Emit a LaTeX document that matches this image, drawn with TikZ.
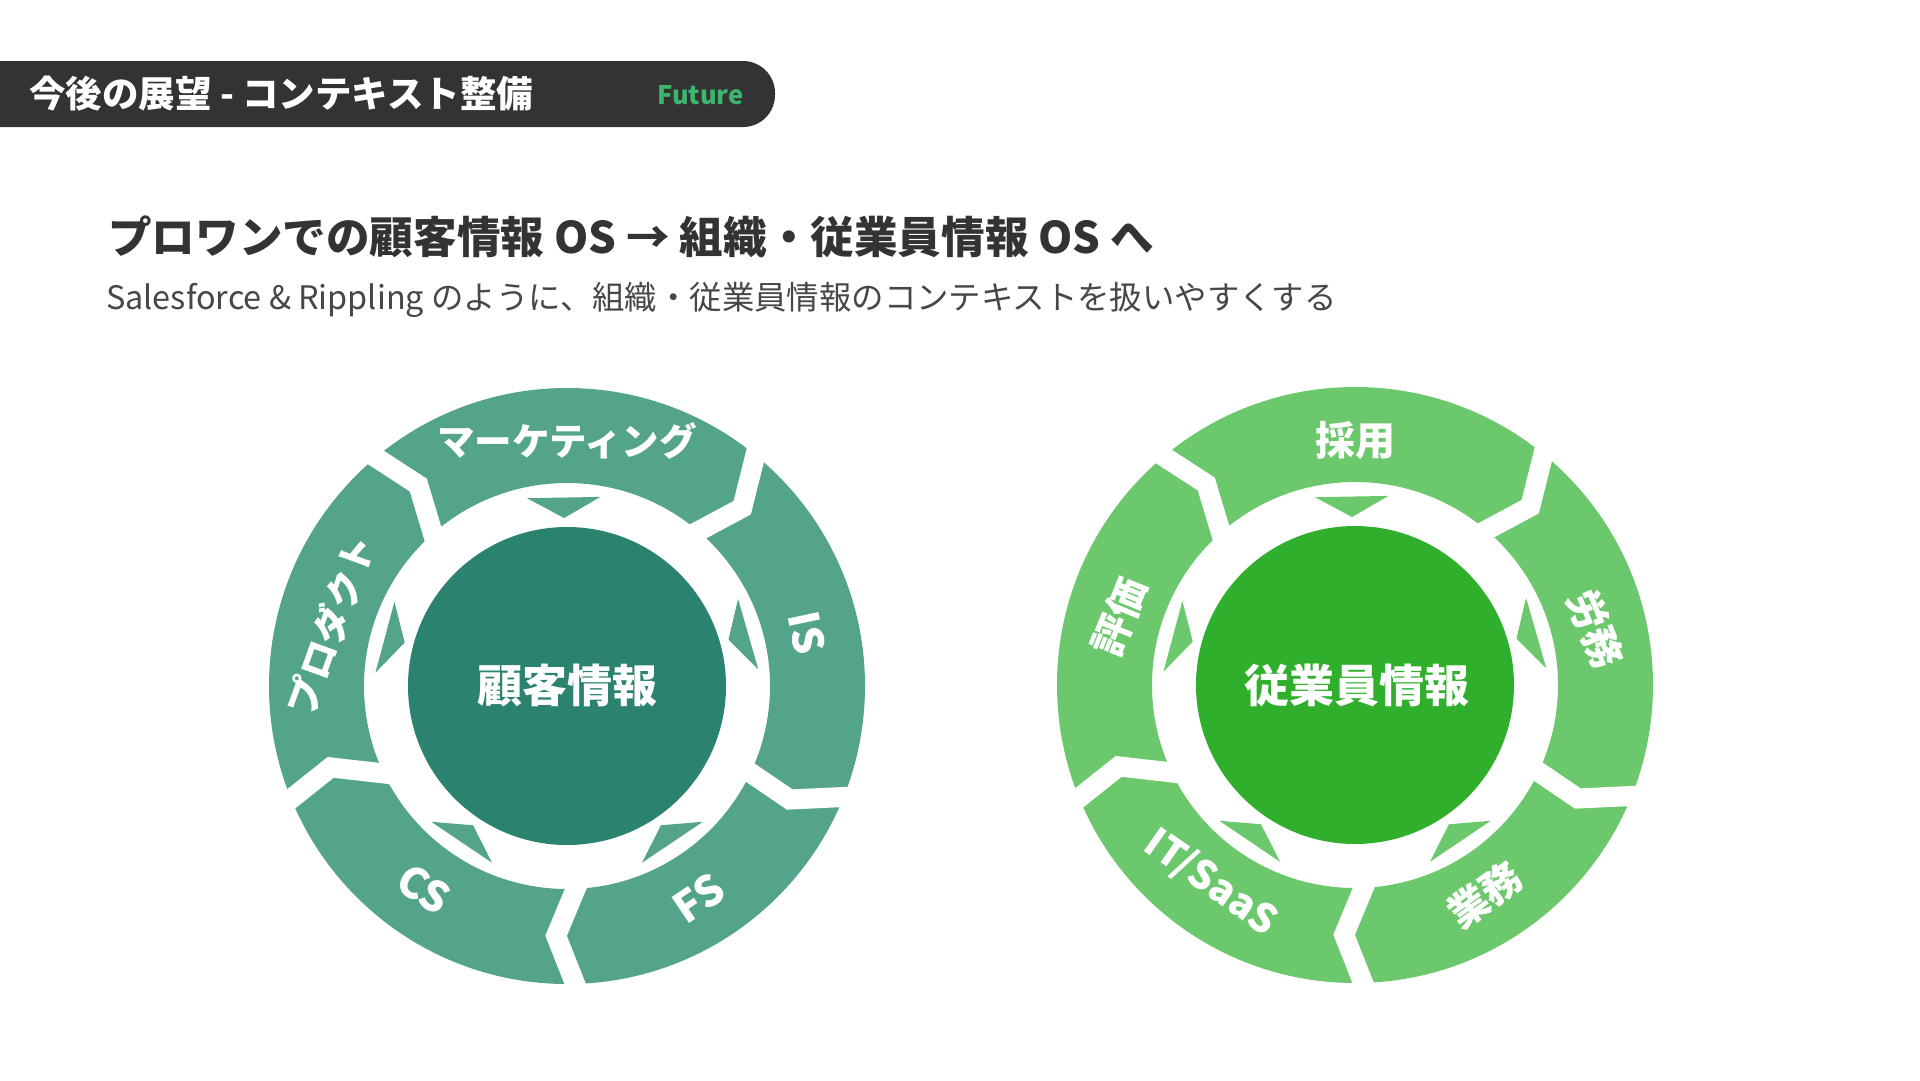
\documentclass[tikz,border=0pt]{standalone}
\usepackage{fontspec}
\setmainfont{Noto Sans CJK JP}
\definecolor{ringA}{HTML}{53A48B}
\definecolor{coreA}{HTML}{2B826F}
\definecolor{ringB}{HTML}{6CC86C}
\definecolor{coreB}{HTML}{2FAF2C}
\definecolor{barcol}{HTML}{333333}
\definecolor{futcol}{HTML}{3CB66E}
\definecolor{txtcol}{HTML}{333333}
\newcommand\mywheel[2]{%
  \fill[#1, even odd rule] (0,0) circle[radius=298pt] (0,0) circle[radius=203pt];
  \foreach \ao/\ak/\ai in {-52/-45.5/-50.5, 20.7/27/25, 87.5/92.5/86.6, -203/-199/-206.8, -130.7/-126.5/-132.3}
    {\draw[white, line width=20pt, line join=miter] (\ao:312) -- (\ak:250) -- (\ai:196);}
  \foreach \c in {-91,-16,56,124,-165}
    {\fill[#1] ({\c-11}:192) -- ({\c+11}:192) -- (\c:168) -- cycle;}
  \fill[#2] (0,0) circle[radius=159pt];
}
\tikzset{
  lbl/.style={text=white, inner sep=0pt, font=\bfseries\fontsize{37.5}{40}\selectfont},
  lblbig/.style={text=white, inner sep=0pt, font=\bfseries\fontsize{40}{44}\selectfont},
  lbllat/.style={text=white, inner sep=0pt, font=\bfseries\fontsize{42}{46}\selectfont},
  corelbl/.style={text=white, inner sep=0pt, font=\bfseries\fontsize{45}{50}\selectfont}
}
\begin{document}
\begin{tikzpicture}[x=1pt,y=-1pt]
\useasboundingbox (0,0) rectangle (1920,1080);
\fill[white] (0,0) rectangle (1920,1080);
% header bar
\fill[barcol, rounded corners=32pt] (-60,61) rectangle (775,127);
\node[anchor=west, text=white, inner sep=0pt, font=\bfseries\fontsize{36.5}{40}\selectfont] (ttl) at (29,94) {今後の展望 - コンテキスト整備};
\node[anchor=west, text=futcol, inner sep=0pt, font=\bfseries\fontsize{25.5}{30}\selectfont] (fut) at (657,95) {Future};
% heading
\node[anchor=west, text=txtcol, inner sep=0pt, font=\bfseries\fontsize{43.6}{50}\selectfont] (hd) at (108,237) {プロワンでの顧客情報 OS → 組織・従業員情報 OS へ};
\node[anchor=west, text=txtcol!90, inner sep=0pt, font=\fontsize{32.4}{38}\selectfont] (sub) at (106,300) {Salesforce \& Rippling のように、組織・従業員情報のコンテキストを扱いやすくする};
% left wheel
\begin{scope}[shift={(567,686)}]
\mywheel{ringA}{coreA}
\end{scope}
\node[lbl] (mk) at (567,441) {マーケティング};
\node[lbl, rotate=70] (pd) at (331,625) {プロダクト};
\node[lbllat, rotate=-78] (is) at (807,633) {IS};
\node[lbllat, rotate=34] (fs) at (699,898) {FS};
\node[lbllat, rotate=-31] (cs) at (424,889) {CS};
\node[corelbl] (ka) at (567,685) {顧客情報};
% right wheel
\begin{scope}[shift={(1355,685)}]
\mywheel{ringB}{coreB}
\end{scope}
\node[lblbig] (sy) at (1355,440) {採用};
\node[lblbig, rotate=-68] (rm) at (1596,629) {労務};
\node[lblbig, rotate=36] (gm) at (1485,895) {業務};
\node[lblbig, rotate=-35] (it) at (1211,883) {IT/SaaS};
\node[lblbig, rotate=68] (hk) at (1119,617) {評価};
\node[corelbl] (jg) at (1357,685) {従業員情報};
\end{tikzpicture}
\end{document}
